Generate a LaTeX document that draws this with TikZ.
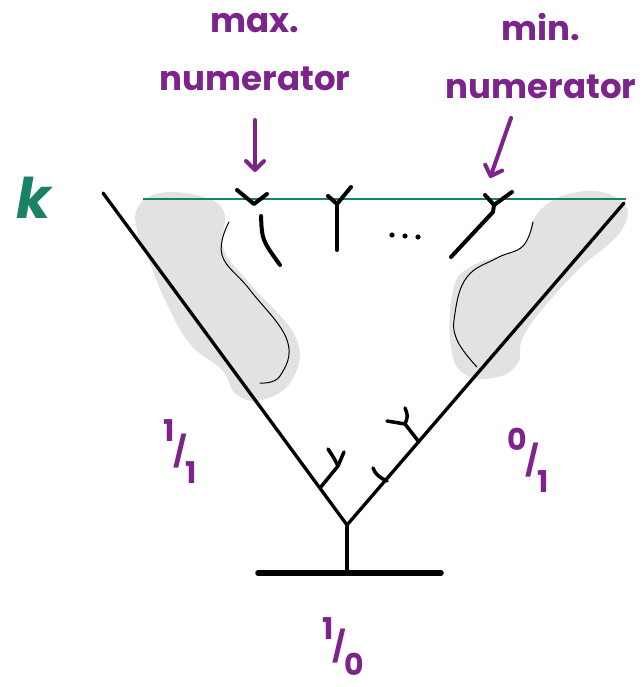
\documentclass[tikz,border=0pt]{standalone}
\usepackage{fontspec}
\setmainfont{Poppins}
\usetikzlibrary{arrows.meta}
\definecolor{hpurple}{RGB}{125,35,140}
\definecolor{hgreen}{RGB}{25,130,100}
\definecolor{blobgrey}{RGB}{226,226,226}
\begin{document}
\begin{tikzpicture}[x=1pt,y=-1pt,
  tree/.style={line width=3.3pt, line cap=round, line join=round},
  twig/.style={line width=4pt, line cap=round, line join=round},
  thinline/.style={line width=1pt, line cap=round},
  blob/.style={fill=blobgrey, draw=none},
  lbl/.style={text=hpurple, font=\fontsize{34}{58}\selectfont\bfseries, align=center, inner sep=0pt},
  frac/.style={text=hpurple, font=\fontsize{30}{30}\selectfont\bfseries, inner sep=0pt},
  arr/.style={hpurple, line width=4pt, line cap=round, -{Straight Barb[length=9pt,width=18pt,round]}}]
\useasboundingbox (0,0) rectangle (643,687);

% grey blobs
\fill[blob] plot[smooth cycle, tension=0.7] coordinates {(138,207) (160,193) (200,196) (224,212) (224,250) (252,286) (296,338) (292,380) (262,400) (236,394) (222,370) (190,344) (166,302) (148,258) (137,230)};
\fill[blob] plot[smooth cycle, tension=0.7] coordinates {(573,193) (602,192) (626,206) (624,226) (608,245) (580,268) (540,312) (522,340) (518,363) (498,377) (466,375) (451,348) (453,290) (472,266) (522,247) (533,220) (550,202)};

% thin outlines
\draw[thinline] plot[smooth, tension=0.7] coordinates {(229,222) (222,255) (250,290) (287,340) (280,376) (260,383)};
\draw[thinline] plot[smooth, tension=0.7] coordinates {(533,222) (523,246) (497,258) (467,277) (455,313) (457,340) (477,367)};

% green level line
\node[text=hgreen, font=\fontsize{56}{56}\selectfont\bfseries\itshape, inner sep=0pt] (k) at (34,198) {k};
\coordinate (kl) at (143,199);
\coordinate (kr) at (626,199);
\draw[hgreen, line width=1.3pt] (kl) -- (kr);

% main V
\coordinate (ltop) at (103,193);
\coordinate (rtop) at (624,203);
\coordinate (apex) at (347,525);
\coordinate (foot) at (347,573);
\coordinate (bl) at (258,573);
\coordinate (br) at (441,573);
\draw[tree] (ltop) -- (apex) -- (rtop);
\draw[tree, line width=3.8pt] (apex) -- (foot);
\draw[line width=5.5pt, line cap=round] (bl) -- (br);

% lower branches
\draw[twig, line width=3.5pt] (320,488) -- (338,466) .. controls (334,458) .. (328,449);
\draw[twig, line width=3.5pt] (338,466) -- (344,452);
\draw[twig, line width=3.5pt] (387,481) .. controls (380,478) and (375,474) .. (373,468);
\draw[twig, line width=3.5pt] (419,442) -- (405,424) -- (387,421);
\draw[twig, line width=3.5pt] (405,424) .. controls (408,416) .. (405,408);

% top nodes
\draw[twig] (237,190) -- (254,204) -- (267,194);
\draw[twig] (261,216) .. controls (262,240) .. (280,265);
\draw[twig] (328,196) -- (337,204) -- (351,187);
\draw[twig] (337,204) -- (337,250);
\fill (392,235) circle (2.6) (405,236) circle (2.6) (418,237) circle (2.6);
\draw[twig] (485,195) -- (494,205) -- (512,192);
\draw[twig] (494,205) -- (493,212) -- (451,257);

% labels
\node[lbl] (maxlbl) at (255,52) {max.\\numerator};
\node[lbl] (minlbl) at (541,56) {min.\\numerator};
\coordinate (maxs) at (255,120);
\coordinate (maxe) at (255,172);
\coordinate (mins) at (511,118);
\coordinate (mine) at (490,178);
\draw[arr] (maxs) -- (maxe);
\draw[arr] (mins) -- (mine);

\node[frac] (f11) at (180,452) {\raisebox{0.7em}{1}\kern-0.05em/\kern-0.05em\raisebox{-0.7em}{1}};
\node[frac] (f01) at (528,460) {\raisebox{0.7em}{0}\kern-0.05em/\kern-0.05em\raisebox{-0.7em}{1}};
\node[frac] (f10) at (343,647) {\raisebox{0.6em}{1}\kern-0.05em/\kern-0.05em\raisebox{-0.6em}{0}};
\end{tikzpicture}
\end{document}
